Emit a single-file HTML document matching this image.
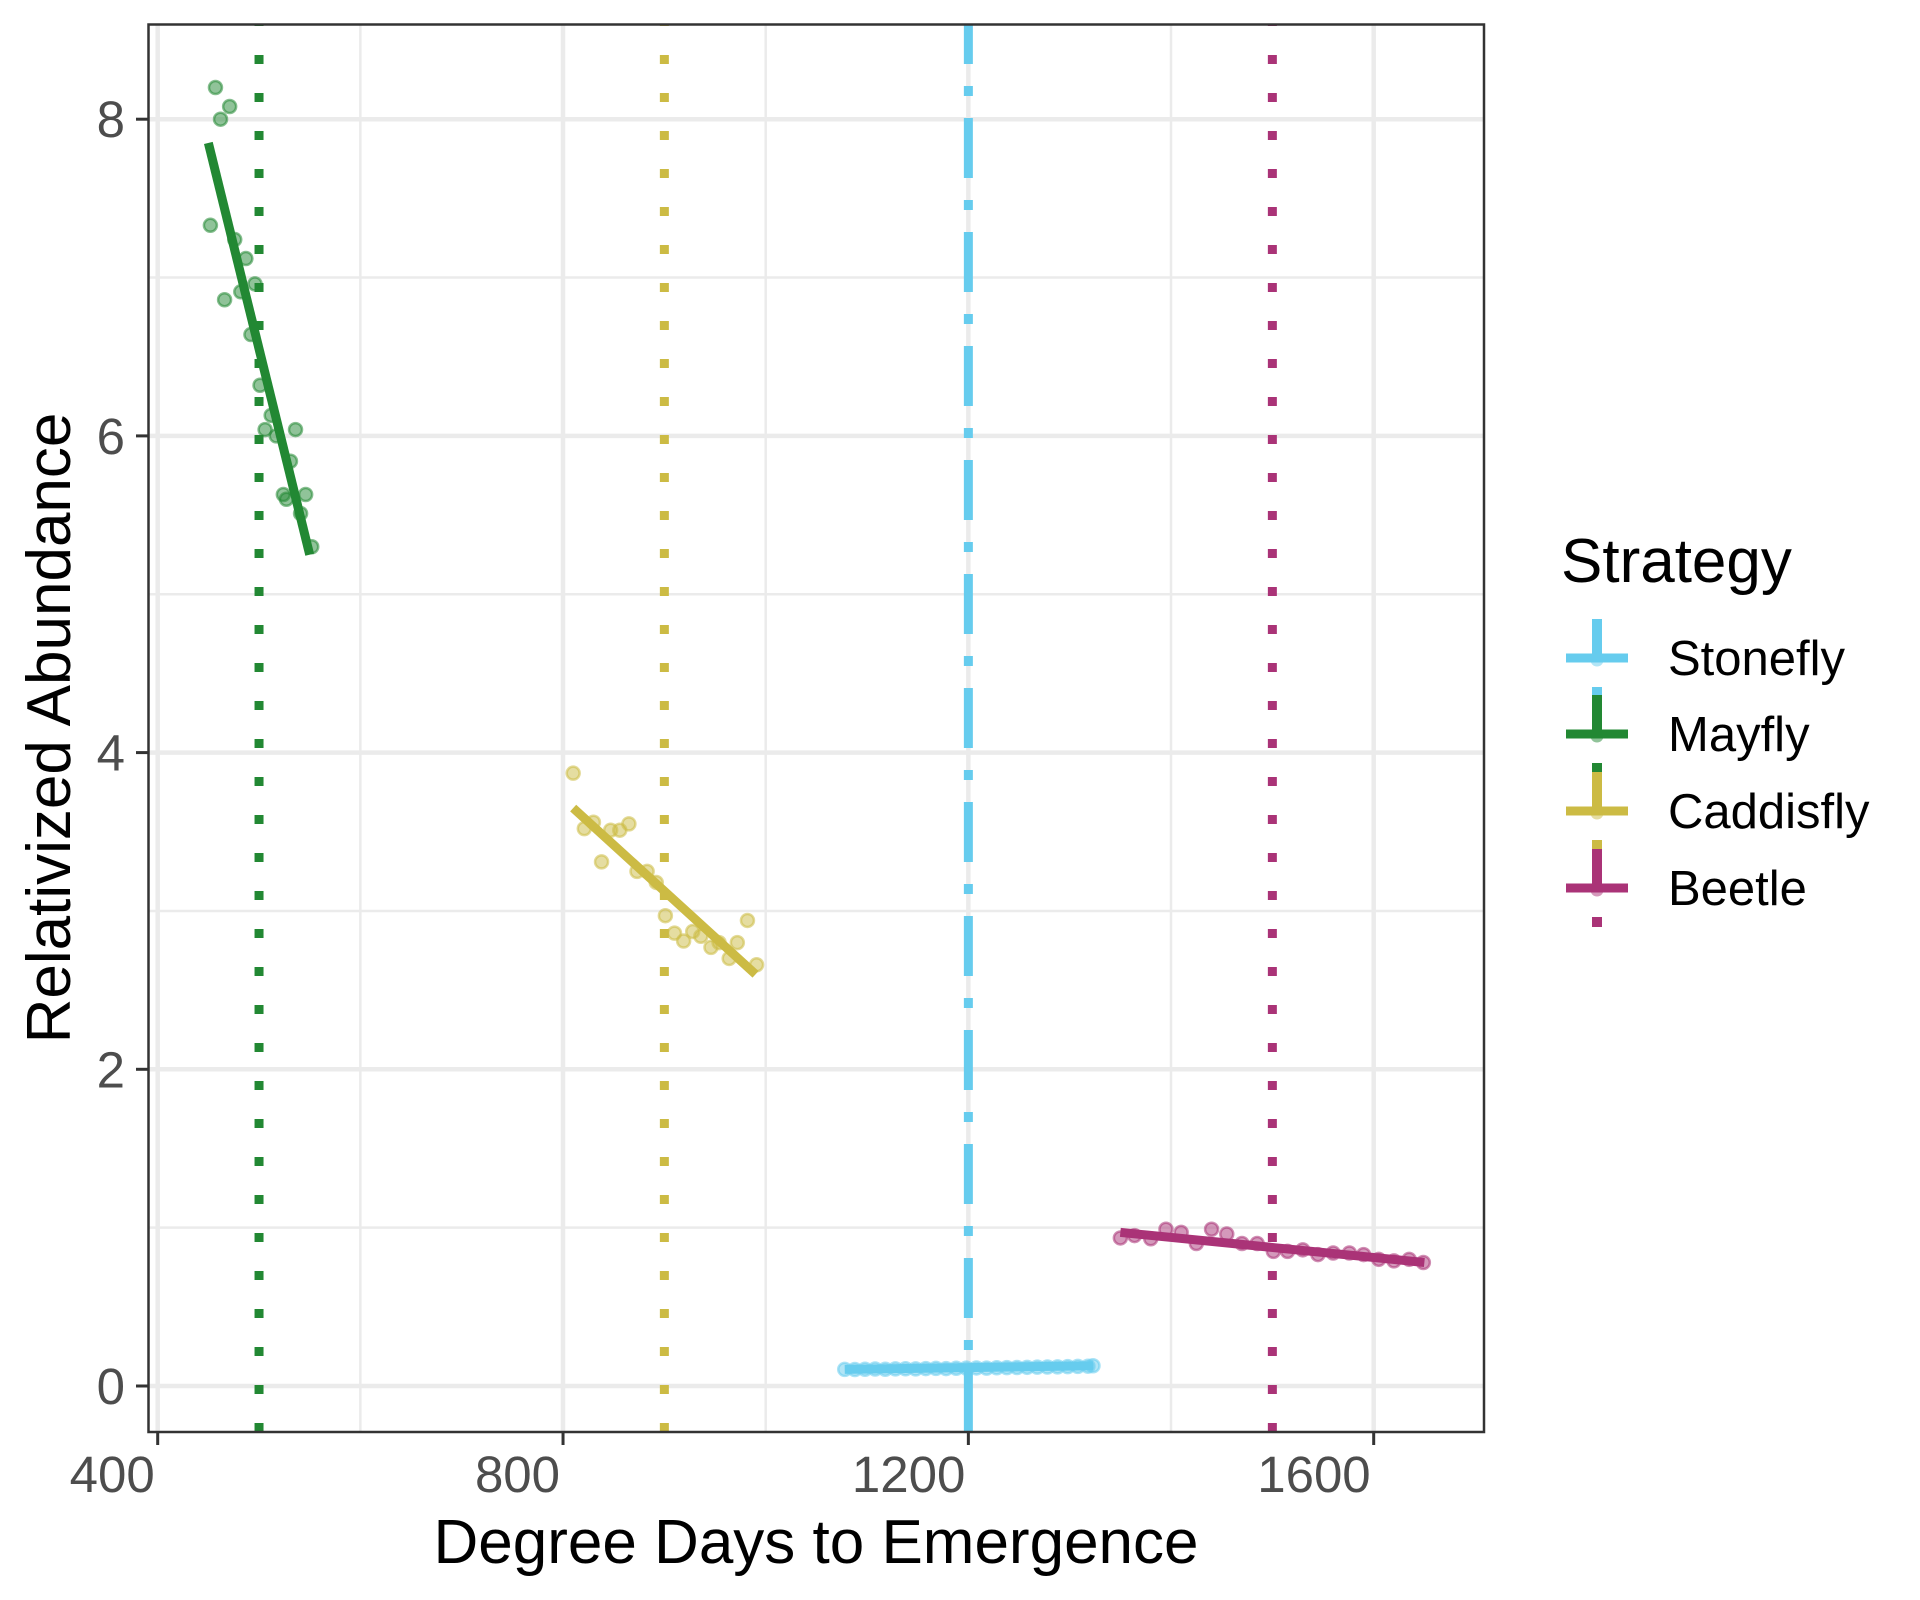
<!DOCTYPE html>
<html><head><meta charset="utf-8"><style>
html,body{margin:0;padding:0;background:#fff;}
svg{display:block;font-family:"Liberation Sans",Arial,sans-serif;}
</style></head><body>
<svg id="chart" width="1920" height="1600" viewBox="0 0 1920 1600" xmlns="http://www.w3.org/2000/svg">
<rect x="0" y="0" width="1920" height="1600" fill="#fff"/>
<g id="grid"></g>
<g id="vlines"></g>
<g id="points"></g>
<g id="fits"></g>
<rect x="148.5" y="24.5" width="1335.5" height="1407.5" fill="none" stroke="#333" stroke-width="2.5"/>
<g id="axes"></g>
<text x="816" y="1563" font-size="62" text-anchor="middle" fill="#000">Degree Days to Emergence</text>
<text transform="translate(70,728) rotate(-90)" font-size="62" text-anchor="middle" fill="#000">Relativized Abundance</text>
<g id="legend">
<text x="1561" y="582" font-size="62" fill="#000">Strategy</text>
</g>
</svg>
<script>
const xMajor = [400, 800, 1200, 1600];
const xMinor = [600, 1000, 1400];
const yMajor = [0, 2, 4, 6, 8];
const yMinor = [1, 3, 5, 7];
const groups = ["Stonefly", "Mayfly", "Caddisfly", "Beetle"];
const colors = ["#66CCEE", "#228833", "#CCBB44", "#AA3377"];
const vlineX = [1200, 500, 900, 1500];
const fitX0 = [1078, 450, 810, 1350];
const fitX1 = [1323, 550, 990, 1650];
const fitY0 = [0.105, 7.85, 3.65, 0.97];
const fitY1 = [0.128, 5.25, 2.60, 0.78];
const mayflyX = [452,457,462,471,466,476,482,487,496,492,501,506,512,517,524,527,536,531,541,546,552];
const mayflyY = [7.33,8.20,8.00,8.08,6.86,7.24,6.91,7.12,6.96,6.64,6.32,6.04,6.13,6.00,5.63,5.60,6.04,5.84,5.51,5.63,5.30];
const caddisX = [810,821,830,838,847,856,865,873,883,892,901,910,919,928,936,946,954,964,972,982,991];
const caddisY = [3.87,3.52,3.56,3.31,3.51,3.51,3.55,3.25,3.25,3.18,2.97,2.86,2.81,2.87,2.84,2.77,2.80,2.70,2.80,2.94,2.66];
const stoneX = [1078,1088,1098,1108,1118,1128,1138,1148,1158,1168,1178,1188,1198,1208,1218,1228,1238,1248,1258,1268,1278,1288,1298,1308,1318,1323];
const stoneY = [0.105,0.104,0.106,0.107,0.106,0.108,0.109,0.108,0.110,0.111,0.110,0.112,0.113,0.114,0.113,0.115,0.116,0.117,0.118,0.119,0.120,0.121,0.122,0.124,0.125,0.128];
const beetleX = [1350,1364,1380,1395,1410,1425,1440,1455,1470,1485,1501,1515,1530,1545,1560,1576,1590,1605,1620,1635,1649];
const beetleY = [0.935,0.95,0.93,0.99,0.97,0.90,0.99,0.96,0.90,0.90,0.85,0.85,0.86,0.83,0.84,0.84,0.83,0.80,0.79,0.80,0.78];

const NS = "http://www.w3.org/2000/svg";
function X(v){ return 157.7 + (v - 400) * 1.01333; }
function Y(v){ return 1386 - v * 158.35; }
function mk(tag, attrs, parent){ const e = document.createElementNS(NS, tag); for (const k in attrs) e.setAttribute(k, attrs[k]); parent.appendChild(e); return e; }
const PL = 148.5, PR = 1484, PT = 24.5, PB = 1432;
const grid = document.getElementById('grid');
yMinor.forEach(v => { const l = mk('line', {x1:PL, x2:PR, y1:Y(v), y2:Y(v), stroke:'#EBEBEB', 'stroke-width':2.5}, grid);
  
   });
xMinor.forEach(v => { const l = mk('line', {x1:X(v), x2:X(v), y1:PT, y2:PB, stroke:'#EBEBEB', 'stroke-width':2.5}, grid);
  
   });
yMajor.forEach(v => { const l = mk('line', {x1:PL, x2:PR, y1:Y(v), y2:Y(v), stroke:'#EBEBEB', 'stroke-width':4.5}, grid);
  
   });
xMajor.forEach(v => { const l = mk('line', {x1:X(v), x2:X(v), y1:PT, y2:PB, stroke:'#EBEBEB', 'stroke-width':4.5}, grid);
  
   });

const dashes = ["60 22 10 22", "9 29", "9 29", "9 29"];
const vg = document.getElementById('vlines');
groups.forEach((g, i) => {
  const l = mk('line', {x1:X(vlineX[i]), x2:X(vlineX[i]), y1:PB, y2:PT, stroke:colors[i], 'stroke-width':9, 'stroke-dasharray':dashes[i]}, vg);
  
  
});

const pg = document.getElementById('points');
const seriesX = [stoneX, mayflyX, caddisX, beetleX];
const seriesY = [stoneY, mayflyY, caddisY, beetleY];
groups.forEach((g, i) => {
  seriesX[i].forEach((xv, j) => {
    const c = mk('circle', {cx:X(xv), cy:Y(seriesY[i][j]), r:6.5, fill:colors[i], 'fill-opacity':0.5, stroke:colors[i], 'stroke-opacity':0.55, 'stroke-width':2.5}, pg);
    
    
  });
});

const fg = document.getElementById('fits');
groups.forEach((g, i) => {
  const l = mk('line', {x1:X(fitX0[i]), y1:Y(fitY0[i]), x2:X(fitX1[i]), y2:Y(fitY1[i]), stroke:colors[i], 'stroke-width':9}, fg);
  
  
});

const ax = document.getElementById('axes');
yMajor.forEach(v => {
  const t = mk('line', {x1:136, x2:148.5, y1:Y(v), y2:Y(v), stroke:'#333', 'stroke-width':3}, ax);
  
  
  const s = mk('text', {x:125, y:Y(v)+18, 'font-size':51, 'text-anchor':'end', fill:'#4D4D4D'}, ax);
  s.textContent = String(v);
  
  
});
xMajor.forEach(v => {
  const t = mk('line', {x1:X(v), x2:X(v), y1:1432, y2:1445, stroke:'#333', 'stroke-width':3}, ax);
  
  
  const s = mk('text', {x:X(v)-3, y:1492, 'font-size':51, 'text-anchor':'end', fill:'#4D4D4D'}, ax);
  s.textContent = String(v);
  
  
});

const lg = document.getElementById('legend');
const rowY = [658, 734, 811, 888];
groups.forEach((g, i) => {
  const y = rowY[i];
  const v = mk('rect', {x:1592, y:y-39, width:10, height:39, fill:colors[i]}, lg);
  
  
  const v2 = mk('rect', {x:1592, y:y+29, width:10, height:10, fill:colors[i]}, lg);
  
  
  const c = mk('circle', {cx:1597, cy:y+2, r:6.5, fill:colors[i], 'fill-opacity':0.5}, lg);
  
  
  const h = mk('line', {x1:1566, x2:1628, y1:y, y2:y, stroke:colors[i], 'stroke-width':9}, lg);
  
  
  const t = mk('text', {x:1668, y:y+17, 'font-size':49, fill:'#000'}, lg);
  t.textContent = g;
  
  
});
</script>
</body></html>
